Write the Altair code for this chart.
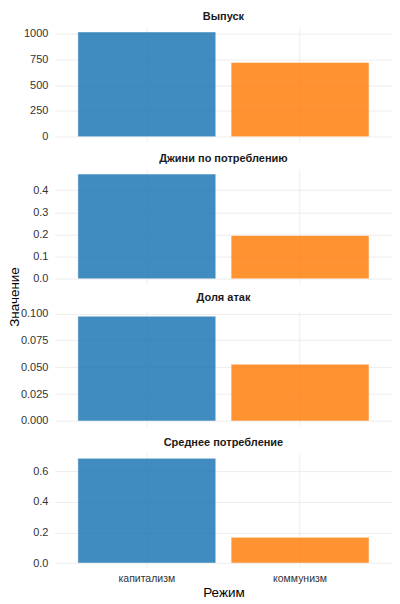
import altair as alt
import pandas as pd

regimes = ["капитализм", "коммунизм"]
metrics = ["Выпуск", "Джини по потреблению", "Доля атак", "Среднее потребление"]
cap_values = [1019, 0.472, 0.0975, 0.684]
com_values = [723, 0.195, 0.0528, 0.168]
tick_values = [
    [0, 250, 500, 750, 1000],
    [0, 0.1, 0.2, 0.3, 0.4],
    [0, 0.025, 0.05, 0.075, 0.1],
    [0, 0.2, 0.4, 0.6],
]
tick_formats = ["d", ".1f", ".3f", ".1f"]
colors = ["#1f77b4", "#ff7f0e"]

FONT = "Liberation Sans"
GRID = "#ebebeb"

panels = []
for i, m in enumerate(metrics):
    df = pd.DataFrame({"Режим": regimes, "Значение": [cap_values[i], com_values[i]]})
    top = max(cap_values[i], com_values[i])
    last = i == len(metrics) - 1

    yax = dict(values=tick_values[i], format=tick_formats[i], grid=True, gridColor=GRID,
               gridWidth=0.9, ticks=False, domain=False, labelFont=FONT, labelFontSize=11,
               labelColor="#333333", labelPadding=7)
    if i == 1:
        yax.update(title="Значение", titleAngle=270, titleX=-40, titleY=128,
                   titleAlign="center", titleBaseline="middle", titleFont=FONT,
                   titleFontSize=13.5, titleFontWeight="normal", titleColor="#000000")
    else:
        yax.update(title=None)

    xax = dict(grid=True, gridColor=GRID, gridWidth=0.9, ticks=False, domain=False,
               labelAngle=0, labels=last, labelFont=FONT, labelFontSize=10.5,
               labelColor="#333333", labelPadding=5)
    if last:
        xax.update(title="Режим", titleFont=FONT, titleFontSize=13.5, titleFontWeight="normal",
                   titleColor="#000000", titlePadding=2)
    else:
        xax.update(title=None)

    c = alt.Chart(df).mark_bar(opacity=0.85, stroke="white", strokeWidth=0.5).encode(
        x=alt.X("Режим:N", sort=regimes,
                scale=alt.Scale(paddingInner=0.1, paddingOuter=0.15),
                axis=alt.Axis(**xax)),
        y=alt.Y("Значение:Q",
                scale=alt.Scale(domain=[-0.05 * top, 1.05 * top], nice=False, zero=False),
                axis=alt.Axis(**yax)),
        color=alt.Color("Режим:N", scale=alt.Scale(domain=regimes, range=colors), legend=None),
    ).properties(
        width=338, height=115.5,
        title=alt.TitleParams(m, fontSize=11, fontWeight="bold", color="#1a1a1a", font=FONT,
                              anchor="middle", frame="group", offset=5),
    )
    panels.append(c)

chart = alt.vconcat(*panels, spacing=26.5, bounds="flush").properties(
    padding={"left": 0, "top": 2, "right": 0, "bottom": 0},
    background="white",
).configure_view(stroke=None)

chart.save("out.html", embed_options={"renderer": "svg", "actions": False})
